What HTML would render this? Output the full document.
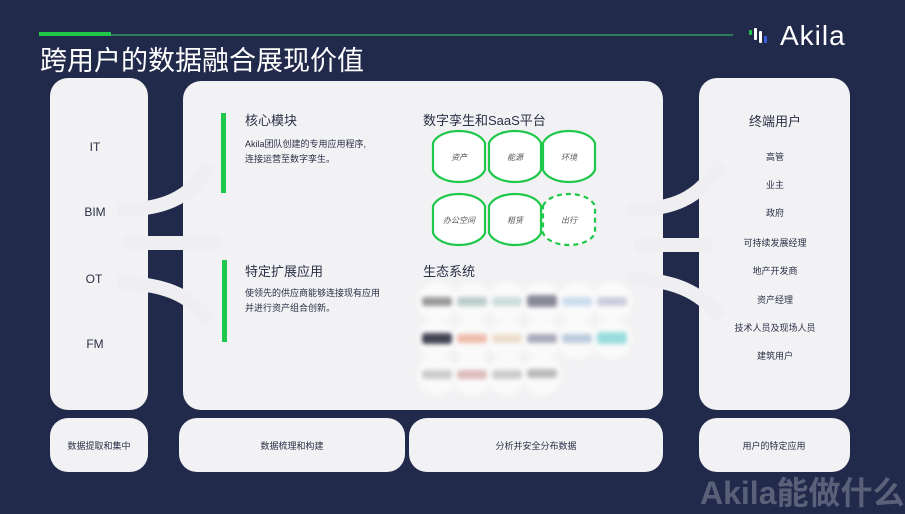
<!DOCTYPE html>
<html><head><meta charset="utf-8"><style>
*{margin:0;padding:0;box-sizing:border-box}
body{width:905px;height:504px;overflow:hidden;background:#222a4c;position:relative;font-family:"Liberation Sans","Noto Sans CJK SC",sans-serif;color:#2a2f45}
.a{position:absolute}
.box{position:absolute;background:#f2f2f4;border-radius:18px}
.t{position:absolute;white-space:nowrap;font-size:11px;color:#2a2f45}
.c{transform:translateX(-50%)}
.logo{position:absolute;width:30px;height:9px;background:#ddd;filter:blur(2px);border-radius:3px}
.wc{position:absolute;width:40px;height:40px;border-radius:50%;background:#fafafa;filter:blur(3px)}
</style></head><body>
<div class="a" style="left:39px;top:32px;width:72px;height:4px;background:#1fc84a"></div>
<div class="a" style="left:111px;top:34px;width:622px;height:2px;background:#2f7a5a"></div>
<div class="t" style="left:40px;top:39px;font-size:27px;color:#fff">跨用户的数据融合展现价值</div>
<div class="a" style="left:749px;top:30px;width:3px;height:5px;background:#1fc84a;border-radius:1px"></div>
<div class="a" style="left:754px;top:28px;width:3px;height:12px;background:#fff;border-radius:1px"></div>
<div class="a" style="left:759px;top:31px;width:3px;height:12px;background:#fff;border-radius:1px"></div>
<div class="a" style="left:764px;top:36px;width:3px;height:7px;background:#3a5ee0;border-radius:1px"></div>
<div class="t" style="left:780px;top:20px;font-size:28px;color:#fff;letter-spacing:1px">Akila</div>

<div class="box" style="left:50px;top:78px;width:98px;height:332px"></div>
<div class="box" style="left:183px;top:81px;width:480px;height:329px"></div>
<div class="box" style="left:699px;top:78px;width:151px;height:332px"></div>
<div class="box" style="left:50px;top:418px;width:98px;height:54px"></div>
<div class="box" style="left:179px;top:418px;width:226px;height:54px"></div>
<div class="box" style="left:409px;top:418px;width:254px;height:54px"></div>
<div class="box" style="left:699px;top:418px;width:151px;height:54px"></div>

<div class="wc" style="left:417px;top:282px"></div><div class="wc" style="left:452px;top:282px"></div><div class="wc" style="left:487px;top:282px"></div><div class="wc" style="left:522px;top:282px"></div><div class="wc" style="left:557px;top:282px"></div><div class="wc" style="left:592px;top:282px"></div>
<div class="wc" style="left:417px;top:319px"></div><div class="wc" style="left:452px;top:319px"></div><div class="wc" style="left:487px;top:319px"></div><div class="wc" style="left:522px;top:319px"></div><div class="wc" style="left:557px;top:319px"></div><div class="wc" style="left:592px;top:319px"></div>
<div class="wc" style="left:417px;top:355px"></div><div class="wc" style="left:452px;top:355px"></div><div class="wc" style="left:487px;top:355px"></div><div class="wc" style="left:522px;top:355px"></div>

<svg class="a" style="left:0;top:0" width="905" height="504">
<g fill="none" stroke="#efeff1" stroke-width="14">
<path d="M117 210 C160 210 190 200 210 165"/>
<path d="M117 283 C160 283 190 293 210 322"/>
<path d="M124 243 H220"/>
<path d="M628 210 C670 210 700 200 720 163"/>
<path d="M628 279 C670 279 700 290 720 318"/>
<path d="M635 245 H712"/>
</g>
<g fill="#fff" stroke="#1fc84a" stroke-width="2.2">
<path d="M433 143 C440 127 478 127 485 143 V170 C478 186 440 186 433 170 Z"/>
<path d="M489 143 C496 127 534 127 541 143 V170 C534 186 496 186 489 170 Z"/>
<path d="M543 143 C550 127 588 127 595 143 V170 C588 186 550 186 543 170 Z"/>
<path d="M433 206 C440 190 478 190 485 206 V233 C478 249 440 249 433 233 Z"/>
<path d="M489 206 C496 190 534 190 541 206 V233 C534 249 496 249 489 233 Z"/>
<path d="M543 206 C550 190 588 190 595 206 V233 C588 249 550 249 543 233 Z" stroke-dasharray="5 4"/>
</g>
<g font-size="8" font-style="italic" fill="#555" text-anchor="middle" font-family="Liberation Sans,Noto Sans CJK SC,sans-serif">
<text x="459" y="160">资产</text><text x="515" y="160">能源</text><text x="569" y="160">环境</text>
<text x="459" y="223">办公空间</text><text x="515" y="223">租赁</text><text x="569" y="223">出行</text>
</g>
</svg>

<div class="t c" style="left:95px;top:140px;font-size:12px">IT</div>
<div class="t c" style="left:95px;top:205px;font-size:12px">BIM</div>
<div class="t c" style="left:94px;top:272px;font-size:12px">OT</div>
<div class="t c" style="left:95px;top:337px;font-size:12px">FM</div>

<div class="a" style="left:221px;top:113px;width:5px;height:80px;background:#1fc84a"></div>
<div class="a" style="left:222px;top:260px;width:5px;height:82px;background:#1fc84a"></div>
<div class="t" style="left:245px;top:110px;font-size:13px">核心模块</div>
<div class="t" style="left:245px;top:137px;font-size:9px;line-height:15px">Akila团队创建的专用应用程序,<br>连接运营至数字孪生。</div>
<div class="t" style="left:245px;top:261px;font-size:13px">特定扩展应用</div>
<div class="t" style="left:245px;top:286px;font-size:9px;line-height:15px">使领先的供应商能够连接现有应用<br>并进行资产组合创新。</div>
<div class="t" style="left:423px;top:110px;font-size:13px">数字孪生和SaaS平台</div>
<div class="t" style="left:423px;top:261px;font-size:13px">生态系统</div>

<div class="logo" style="left:422px;top:297px;background:#999"></div>
<div class="logo" style="left:457px;top:297px;background:#bcc"></div>
<div class="logo" style="left:492px;top:297px;background:#cdd"></div>
<div class="logo" style="left:527px;top:295px;background:#889;height:12px"></div>
<div class="logo" style="left:562px;top:297px;background:#cde"></div>
<div class="logo" style="left:597px;top:297px;background:#ccd"></div>
<div class="logo" style="left:422px;top:333px;background:#445;height:11px"></div>
<div class="logo" style="left:457px;top:334px;background:#eba"></div>
<div class="logo" style="left:492px;top:334px;background:#edc"></div>
<div class="logo" style="left:527px;top:334px;background:#aab"></div>
<div class="logo" style="left:562px;top:334px;background:#bcd"></div>
<div class="logo" style="left:597px;top:332px;background:#9dd;height:12px"></div>
<div class="logo" style="left:422px;top:370px;background:#ccc"></div>
<div class="logo" style="left:457px;top:370px;background:#dbb"></div>
<div class="logo" style="left:492px;top:370px;background:#ccc"></div>
<div class="logo" style="left:527px;top:369px;background:#bbb"></div>

<div class="t c" style="left:775px;top:111px;font-size:13px">终端用户</div>
<div class="t c" style="left:775px;top:150px;font-size:9px">高管</div>
<div class="t c" style="left:775px;top:178px;font-size:9px">业主</div>
<div class="t c" style="left:775px;top:206px;font-size:9px">政府</div>
<div class="t c" style="left:775px;top:236px;font-size:9px">可持续发展经理</div>
<div class="t c" style="left:775px;top:264px;font-size:9px">地产开发商</div>
<div class="t c" style="left:775px;top:293px;font-size:9px">资产经理</div>
<div class="t c" style="left:775px;top:321px;font-size:9px">技术人员及现场人员</div>
<div class="t c" style="left:775px;top:349px;font-size:9px">建筑用户</div>

<div class="t c" style="left:99px;top:439px;font-size:9px">数据提取和集中</div>
<div class="t c" style="left:292px;top:439px;font-size:9px">数据梳理和构建</div>
<div class="t c" style="left:536px;top:439px;font-size:9px">分析并安全分布数据</div>
<div class="t c" style="left:774px;top:439px;font-size:9px">用户的特定应用</div>

<div class="t" style="left:700px;top:468px;font-size:32px;font-weight:bold;color:#5b6079">Akila能做什么</div>
</body></html>
